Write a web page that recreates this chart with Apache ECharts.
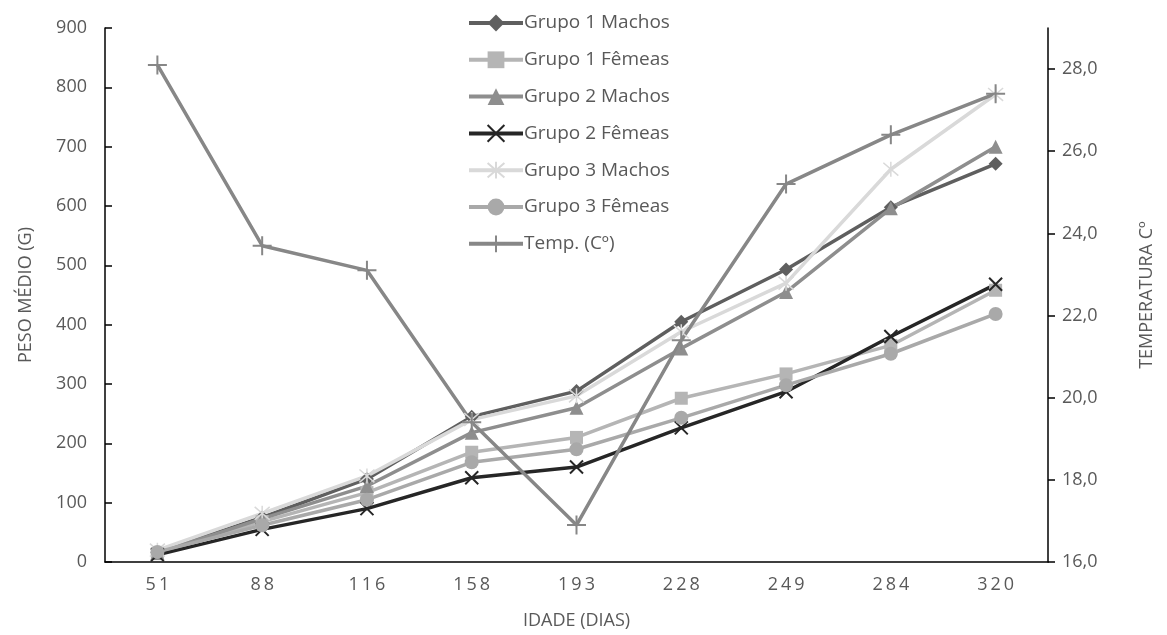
<!DOCTYPE html>
<html>
<head>
<meta charset="utf-8">
<script src="https://cdn.jsdelivr.net/npm/echarts@6/dist/echarts.min.js"></script>
<style>
	html, body { margin: 0; padding: 0; background: #fff; }
	#chart { width: 1167px; height: 635px; }
</style>
</head>
<body>
<div id="chart"></div>
<script>
const idades = ['51', '88', '116', '158', '193', '228', '249', '284', '320'];
const grupo1Machos = [16, 75, 140, 245, 288, 405, 493, 598, 671];
const grupo1Femeas = [14, 68, 117, 185, 210, 276, 317, 365, 458];
const grupo2Machos = [15, 73, 128, 218, 260, 360, 455, 596, 700];
const grupo2Femeas = [12, 55, 90, 142, 160, 226, 287, 380, 468];
const grupo3Machos = [20, 82, 145, 240, 280, 388, 470, 662, 788];
const grupo3Femeas = [17, 62, 105, 168, 190, 243, 298, 351, 418];
const temperatura = [28.1, 23.7, 23.1, 19.4, 16.9, 21.4, 25.2, 26.4, 27.4];
const tempTicks = [16, 18, 20, 22, 24, 26, 28];

const font = 'Open Sans';
const txt = '#595959';
const xPath = 'path://M0,0L10,10M10,0L0,10';
const starPath = 'path://M5,0L5,10M0.7,0.7L9.3,9.3M9.3,0.7L0.7,9.3';
const plusPath = 'path://M5,0L5,10M0,5L10,5';

function line(name, data, color, symbol, size, stroke, axis) {
	return {
		name: name,
		type: 'line',
		data: data,
		yAxisIndex: axis || 0,
		symbol: symbol,
		symbolSize: size,
		lineStyle: { color: color, width: 3.5 },
		itemStyle: { color: color, borderColor: color, borderWidth: stroke || 0 },
		emphasis: { disabled: true }
	};
}

const chart = echarts.init(document.getElementById('chart'));
const opt = {
	animation: false,
	textStyle: { fontFamily: font },
	grid: { left: 105, right: 119, top: 28, bottom: 73 },
	legend: {
		orient: 'vertical',
		left: 462,
		top: 7,
		itemWidth: 54,
		itemHeight: 21,
		itemGap: 14.8,
		lineStyle: { width: 4 },
		textStyle: { color: txt, fontSize: 19, lineHeight: 22, fontFamily: font, padding: [0, 0, 0, -4] },
		data: ['Grupo 1 Machos', 'Grupo 1 Fêmeas', 'Grupo 2 Machos', 'Grupo 2 Fêmeas', 'Grupo 3 Machos', 'Grupo 3 Fêmeas', 'Temp. (Cº)']
	},
	xAxis: [
		{
			type: 'category',
			data: idades,
			position: 'bottom',
			name: 'IDADE (DIAS)',
			nameLocation: 'middle',
			nameGap: 50,
			nameTextStyle: { color: txt, fontSize: 18 },
			axisLine: { lineStyle: { color: '#000', width: 1.5 } },
			axisTick: { inside: false, length: 7, lineStyle: { color: '#000', width: 1.5 } },
			axisLabel: { color: txt, fontSize: 18, margin: 14, formatter: v => v.split('').join('\u2009') },
			splitLine: { show: false }
		},
		{
			type: 'category',
			data: idades,
			position: 'bottom',
			axisLine: { show: false },
			axisTick: { inside: true, length: 7, lineStyle: { color: '#000', width: 1.5 } },
			axisLabel: { show: false },
			splitLine: { show: false }
		},
		{
			type: 'category',
			data: idades,
			position: 'bottom',
			axisLine: { show: false },
			axisTick: { inside: true, alignWithLabel: true, length: 5, lineStyle: { color: '#000', width: 1.5 } },
			axisLabel: { show: false },
			splitLine: { show: false }
		}
	],
	yAxis: [
		{
			type: 'value',
			min: 0,
			max: 900,
			interval: 100,
			name: 'PESO MÉDIO (G)',
			nameLocation: 'middle',
			nameGap: 70,
			nameTextStyle: { color: txt, fontSize: 18 },
			axisLine: { show: true, lineStyle: { color: '#000', width: 1.5 } },
			axisTick: { show: true, inside: true, length: 7, lineStyle: { color: '#000', width: 1.5 } },
			axisLabel: { color: txt, fontSize: 18, margin: 18 },
			splitLine: { show: false }
		},
		{
			type: 'value',
			min: 16,
			max: 29,
			interval: 2,
			position: 'right',
			name: 'TEMPERATURA Cº',
			nameLocation: 'middle',
			nameGap: 90,
			nameRotate: 90,
			nameTextStyle: { color: txt, fontSize: 18 },
			axisLine: { show: true, lineStyle: { color: '#000', width: 1.5 } },
			axisTick: { show: true, inside: false, length: 7, customValues: tempTicks, lineStyle: { color: '#000', width: 1.5 } },
			axisLabel: {
				color: txt,
				fontSize: 18,
				margin: 14,
				customValues: tempTicks,
				formatter: v => v.toFixed(1).replace('.', ',')
			},
			splitLine: { show: false }
		}
	],
	series: [
		line('Grupo 1 Machos', grupo1Machos, '#5f5f5f', 'diamond', 14),
		line('Grupo 1 Fêmeas', grupo1Femeas, '#b5b5b5', 'rect', 13),
		line('Grupo 2 Machos', grupo2Machos, '#8e8e8e', 'triangle', 14),
		line('Grupo 2 Fêmeas', grupo2Femeas, '#262626', xPath, 13, 2),
		line('Grupo 3 Machos', grupo3Machos, '#d9d9d9', starPath, 15, 1.5),
		line('Grupo 3 Fêmeas', grupo3Femeas, '#a9a9a9', 'circle', 14),
		line('Temp. (Cº)', temperatura, '#878787', plusPath, 19, 2, 1)
	]
};
chart.setOption(opt);
</script>
</body>
</html>
